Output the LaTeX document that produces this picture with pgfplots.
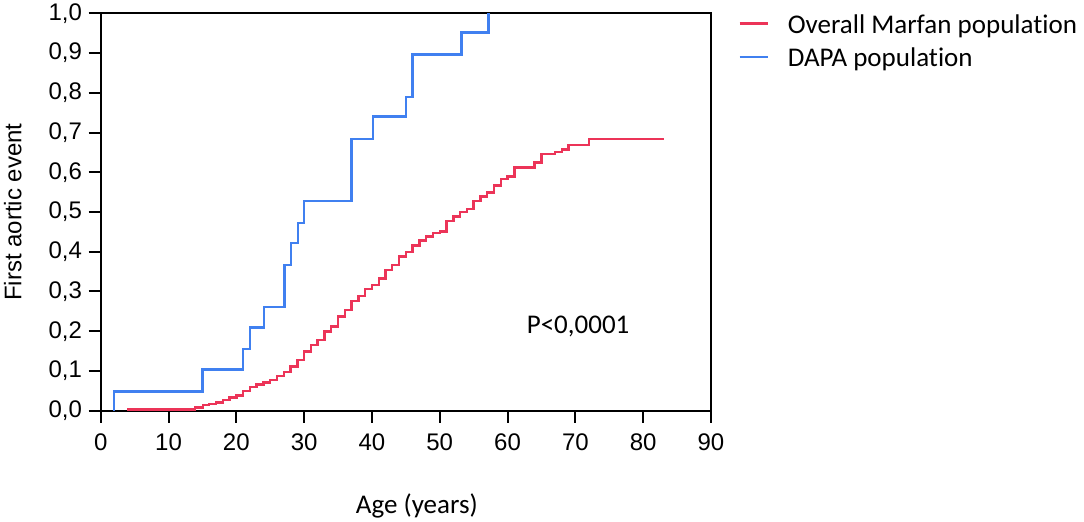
\documentclass[border=0pt]{standalone}
\usepackage{fontspec}
\setmainfont{Carlito}[Ligatures={NoCommon,NoDiscretionary,NoRare}]
\newfontfamily\arialf{Liberation Sans}
\usepackage{pgfplots}
\pgfplotsset{compat=1.18}
\definecolor{kmred}{RGB}{236,52,88}
\definecolor{kmblue}{RGB}{64,128,240}
\begin{document}
\begin{tikzpicture}
\begin{axis}[
  name=ax,
  at={(0,0)}, anchor=south west,
  width=305.15pt, height=198.7pt, scale only axis,
  xmin=0, xmax=90, ymin=0, ymax=1,
  clip=false,
  axis line style={line width=1pt, black},
  every tick/.style={line width=1pt, black},
  major tick length=6pt,
  tick align=outside,
  tick pos=left,
  xtick={0,10,20,30,40,50,60,70,80,90},
  ytick={0,0.1,0.2,0.3,0.4,0.5,0.6,0.7,0.8,0.9,1.0},
  /pgf/number format/assume math mode=true,
  tick label style={font=\arialf\fontsize{12}{14}\selectfont},
  yticklabel style={inner sep=0pt, anchor=east, xshift=-3.2pt,
    /pgf/number format/.cd, fixed, fixed zerofill, precision=1, use comma},
  xticklabel style={inner sep=0pt, anchor=north, yshift=-5.3pt},
  xlabel={Age (years)},
  xlabel style={font=\fontsize{13.5}{15}\selectfont, at={(axis description cs:0.5,0)}, anchor=base, yshift=-51.5pt, xshift=5.5pt, inner sep=0pt},
  ylabel={First aortic event},
  ylabel style={font=\arialf\fontsize{12}{14}\selectfont, at={(axis description cs:-0.1440,0.5)}, anchor=center, inner sep=0pt},
  legend style={at={(axis description cs:1,1)}, anchor=north west, xshift=13.7pt, yshift=0pt,
    draw=none, fill=none, inner sep=0pt, outer sep=0pt,
    font=\fontsize{13.5}{15}\selectfont,
    nodes={inner sep=0pt, text height=10pt, text depth=3pt},
    row sep=3.7pt, column sep=9.5pt},
  legend cell align=left,
  legend image code/.code={\draw[#1] (0pt,1.5pt) -- (14pt,1.5pt);},
]
\addplot[kmred, line width=1.2pt, const plot mark left] coordinates {
(3.9,0.0035) (13.9,0.0085) (15.1,0.014) (16,0.017) (17,0.021) (18,0.027) (19,0.033) (20,0.038)
(21,0.050) (22,0.060) (23,0.066) (24,0.071) (25,0.077) (26,0.088) (27,0.098)
(28,0.111) (29,0.128) (30,0.149) (31,0.165) (32,0.178) (33,0.199) (34,0.212)
(35,0.237) (36,0.254) (37,0.276) (38,0.289) (39,0.306) (40,0.317) (41,0.333)
(42,0.354) (43,0.367) (44,0.388) (45,0.400) (46,0.416) (47,0.428) (48,0.438)
(49,0.447) (50,0.451) (51,0.478) (52,0.489) (53,0.500) (54,0.507) (55,0.528)
(56,0.539) (57,0.549) (58,0.567) (59,0.583) (60,0.589) (61,0.612) (64,0.625)
(65,0.646) (67,0.651) (68,0.657) (69,0.669) (72,0.684) (83.1,0.684)
};
\addlegendentry{Overall Marfan population}
\addplot[kmblue, line width=1.2pt, const plot mark left] coordinates {
(2,0) (2,0.048) (15,0.104) (21,0.155) (22,0.209) (24.1,0.261) (27.1,0.366)
(28.1,0.422) (29.1,0.473) (30,0.528) (37,0.684) (40.2,0.740) (45,0.790)
(46,0.896) (53.2,0.952) (57.2,1.0)
};
\addlegendentry{DAPA population}
\node[anchor=base, inner sep=0pt, font=\fontsize{13.5}{15}\selectfont] at (axis cs:70.4,0.195) {P<0,0001};
\end{axis}
\pgfresetboundingbox
\path[use as bounding box] ([xshift=-50.35pt,yshift=-55.15pt]ax.south west) rectangle ++(542pt,260.5pt);
\end{tikzpicture}
\end{document}
